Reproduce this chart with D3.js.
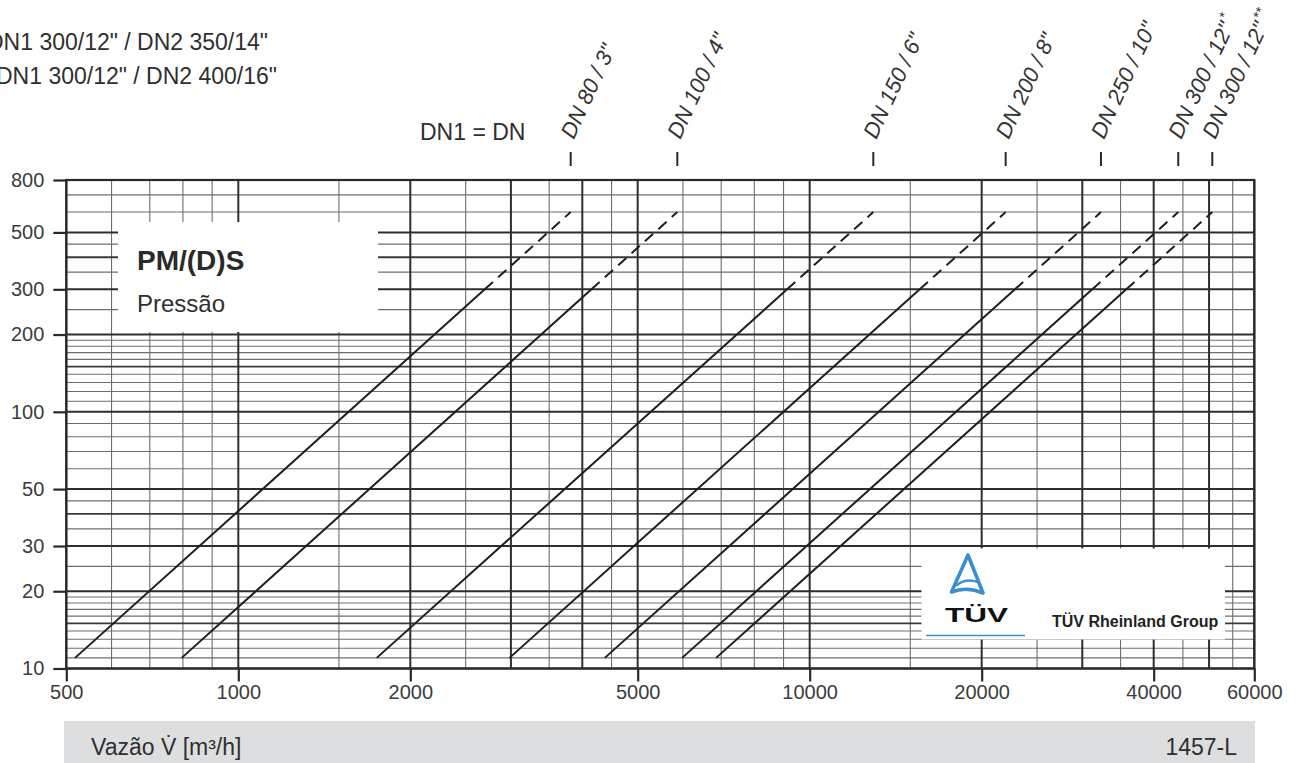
<!DOCTYPE html>
<html><head><meta charset="utf-8">
<script src="https://cdn.jsdelivr.net/npm/d3@7"></script>
<style>html,body{margin:0;padding:0;background:#fff;overflow:hidden}svg{display:block}</style>
</head><body>
<svg id="c" width="1301" height="763"></svg>
<script>
// ---- data ----
const sizeLabels = ['DN 80 / 3"', 'DN 100 / 4"', 'DN 150 / 6"', 'DN 200 / 8"', 'DN 250 / 10"', 'DN 300 / 12"', 'DN 300 / 12"'];
const sizeMarks = ['', '', '', '', '', '*', '**'];
const flowAtStart = [518, 796, 1747, 2983, 4380, 5980, 6859];        // m³/h at Δp = 11
const flowAtDash = [2700, 4150, 9130, 15580, 22870, 31230, 35820];  // m³/h at Δp = 300
const flowAtEnd = [3817, 5866, 12923, 22029, 32344, 44163, 50656];  // m³/h at Δp = 600
const pressureStart = 11, pressureDash = 300, pressureEnd = 600;

const xTickValues = [500, 1000, 2000, 5000, 10000, 20000, 40000, 60000];
const yTickValues = [10, 20, 30, 50, 100, 200, 300, 500, 800];
const xGridMajor = [500, 1000, 2000, 3000, 4000, 5000, 10000, 20000, 30000, 40000, 50000, 60000];
const xGridMinor = [600, 700, 800, 900, 1500, 2500, 3500, 4500, 6000, 7000, 8000, 9000, 15000, 25000, 35000, 45000, 55000];
const yGridMajor = [10, 20, 30, 50, 100, 200, 300, 500, 800];
const yGridMedium = [15, 40, 150, 400];
const yGridMinor = [11, 12, 13, 14, 16, 17, 18, 19, 25, 35, 45, 60, 70, 80, 90, 110, 120, 130, 140, 160, 170, 180, 190, 250, 350, 450, 600, 700];

const topLeftLines = ['DN1 300/12" / DN2 350/14"', 'DN1 300/12" / DN2 400/16"'];
const titleText = 'PM/(D)S', subtitleText = 'Pressão';
const dnNote = 'DN1 = DN';
const xAxisTitle = 'Vazão V\u0307 [m³/h]';
const codeText = '1457-L';

// ---- drawing ----
const FONT = '"Liberation Sans", Arial, Helvetica, sans-serif';
const svg = d3.select('#c').style('font-family', FONT);
const x = d3.scaleLog().domain([500, 60000]).range([66.3, 1254.3]);
const y = d3.scaleLog().domain([10, 800]).range([668.5, 180]);
const [x0, x1] = x.range(), [y0, y1] = y.range();

const grid = svg.append('g');
grid.selectAll('.vmin').data(xGridMinor).join('line')
  .attr('x1', d => x(d)).attr('x2', d => x(d)).attr('y1', y1).attr('y2', y0)
  .attr('stroke', '#6e6e6e').attr('stroke-width', 1.1);
grid.selectAll('.hmin').data(yGridMinor).join('line')
  .attr('y1', d => y(d)).attr('y2', d => y(d)).attr('x1', x0).attr('x2', x1)
  .attr('stroke', '#6e6e6e').attr('stroke-width', 1.1);
grid.selectAll('.hmed').data(yGridMedium).join('line')
  .attr('y1', d => y(d)).attr('y2', d => y(d)).attr('x1', x0).attr('x2', x1)
  .attr('stroke', '#3a3a3a').attr('stroke-width', 1.8);
grid.selectAll('.vmaj').data(xGridMajor).join('line')
  .attr('x1', d => x(d)).attr('x2', d => x(d)).attr('y1', y1).attr('y2', y0)
  .attr('stroke', '#2e2e2e').attr('stroke-width', 2);
grid.selectAll('.hmaj').data(yGridMajor).join('line')
  .attr('y1', d => y(d)).attr('y2', d => y(d)).attr('x1', x0).attr('x2', x1)
  .attr('stroke', '#2e2e2e').attr('stroke-width', 2);

// white panels
svg.append('rect').attr('x', 118).attr('y', 222).attr('width', 260).attr('height', 110).attr('fill', '#fff');
svg.append('rect').attr('x', 921.5).attr('y', 548.5).attr('width', 303.5).attr('height', 91).attr('fill', '#fff');

// characteristic lines
const lineGen = d3.line().x(d => x(d[0])).y(d => y(d[1]));
const curves = svg.append('g').attr('fill', 'none').attr('stroke', '#1e1e1e').attr('stroke-width', 2);
curves.selectAll('.solid').data(flowAtStart).join('path')
  .attr('d', (d, i) => lineGen([[d, pressureStart], [flowAtDash[i], pressureDash]]));
curves.selectAll('.dash').data(flowAtDash).join('path')
  .attr('stroke-dasharray', '11,7')
  .attr('d', (d, i) => lineGen([[d, pressureDash], [flowAtEnd[i], pressureEnd]]));

// border
svg.append('rect').attr('x', x0).attr('y', y1).attr('width', x1 - x0).attr('height', y0 - y1)
  .attr('fill', 'none').attr('stroke', '#2a2a2a').attr('stroke-width', 2.2);

// axes
const xAxis = svg.append('g').attr('transform', `translate(0,${y0})`)
  .call(d3.axisBottom(x).tickValues(xTickValues).tickFormat(d3.format('d')).tickSize(13).tickPadding(3));
const yAxis = svg.append('g').attr('transform', `translate(${x0},0)`)
  .call(d3.axisLeft(y).tickValues(yTickValues).tickFormat(d3.format('d')).tickSize(13).tickPadding(9));
[xAxis, yAxis].forEach(a => {
  a.select('.domain').remove();
  a.selectAll('line').attr('stroke', '#2a2a2a').attr('stroke-width', 2.2);
  a.selectAll('text').attr('fill', '#3c3c3c').style('font-size', '20px').style('font-family', FONT);
});

// size labels at line ends
const lab = svg.append('g');
lab.selectAll('line').data(flowAtEnd).join('line')
  .attr('x1', d => x(d)).attr('x2', d => x(d)).attr('y1', 152).attr('y2', 166)
  .attr('stroke', '#2a2a2a').attr('stroke-width', 2);
const lt = lab.selectAll('text').data(flowAtEnd).join('text')
  .attr('transform', d => `translate(${x(d) + 3},140) rotate(-65)`)
  .attr('fill', '#333').style('font-size', '22px').style('font-style', 'italic');
lt.append('tspan').text((d, i) => sizeLabels[i]);
lt.append('tspan').attr('dx', 3).attr('dy', -9).style('font-size', '14px').style('font-style', 'normal')
  .text((d, i) => sizeMarks[i]);

// texts
svg.append('g').selectAll('text').data(topLeftLines).join('text')
  .attr('x', (d, i) => i === 0 ? 268 : 277).attr('y', (d, i) => i === 0 ? 50 : 84)
  .attr('text-anchor', 'end').attr('fill', '#2f2f2f').style('font-size', '23px').text(d => d);
svg.append('text').attr('x', 420).attr('y', 140).attr('fill', '#2f2f2f').style('font-size', '23px').text(dnNote);
svg.append('text').attr('x', 137).attr('y', 270).attr('fill', '#2a2a2a').style('font-size', '28px').style('font-weight', 'bold').text(titleText);
svg.append('text').attr('x', 137).attr('y', 312).attr('fill', '#2f2f2f').style('font-size', '24px').text(subtitleText);

// bottom bar
svg.append('rect').attr('x', 64).attr('y', 721).attr('width', 1191).attr('height', 42).attr('fill', '#dddee0');
svg.append('text').attr('x', 91).attr('y', 755).attr('fill', '#2f2f2f').style('font-size', '23px').text(xAxisTitle);
svg.append('text').attr('x', 1237).attr('y', 755).attr('text-anchor', 'end').attr('fill', '#2f2f2f').style('font-size', '23px').text(codeText);

// TÜV logo
const logo = svg.append('g').attr('fill', 'none').attr('stroke', '#3b8fd0').attr('stroke-linejoin', 'round').attr('stroke-linecap', 'round');
logo.append('path').attr('d', 'M968,555 L951.5,592 Q967,586 983,593 Z').attr('stroke-width', 3.6);
logo.append('path').attr('d', 'M957,585 Q966,578 978,582').attr('stroke-width', 2.6);
svg.append('text').attr('x', 945).attr('y', 622).attr('textLength', 63).attr('lengthAdjust', 'spacingAndGlyphs')
  .attr('fill', '#111').style('font-size', '21px').style('font-weight', 'bold').text('TÜV');
svg.append('line').attr('x1', 926).attr('x2', 1025).attr('y1', 635.5).attr('y2', 635.5)
  .attr('stroke', '#3b8fd0').attr('stroke-width', 1.6);
svg.append('text').attr('x', 1052).attr('y', 627).attr('fill', '#222').style('font-size', '16px').style('font-weight', 'bold')
  .text('TÜV Rheinland Group');
</script>
</body></html>
